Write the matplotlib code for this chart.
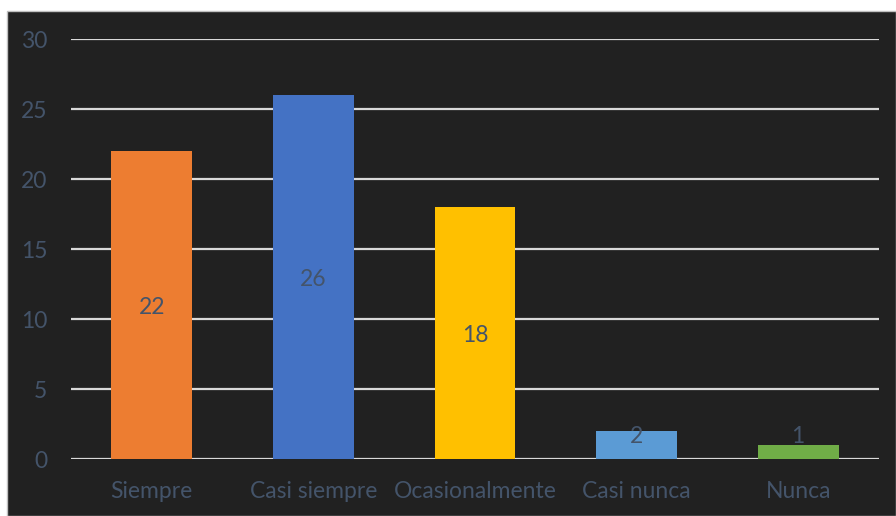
import matplotlib
matplotlib.use("Agg")
import matplotlib.pyplot as plt
from matplotlib.patches import Rectangle

categories = ["Siempre", "Casi siempre", "Ocasionalmente", "Casi nunca", "Nunca"]
values = [22, 26, 18, 2, 1]
colors = ["#ED7D31", "#4472C4", "#FFC000", "#5B9BD5", "#70AD47"]
yticks = [0, 5, 10, 15, 20, 25, 30]

plt.rcParams['font.family'] = ['Lato', 'DejaVu Sans']
W, H = 896, 516
fig = plt.figure(figsize=(W/100, H/100), dpi=100)
fig.patch.set_facecolor("white")
bg = Rectangle((7/W, 0), 1 - 7/W, 1 - 11/H, transform=fig.transFigure,
               facecolor="#212121", edgecolor="#BFBFBF", linewidth=1, zorder=-10)
fig.add_artist(bg)

ax = fig.add_axes([71/W, 1 - 459/H, (879-71)/W, (459-39)/H])
ax.set_zorder(5)
ax.set_facecolor("none")
x = range(len(categories))
ax.bar(x, values, width=0.5, color=colors, zorder=3)
ax.set_xlim(-0.5, len(categories) - 0.5)
ax.set_ylim(0, 30)
ax.set_yticks(yticks)
ax.yaxis.grid(True, color="#D9D9D9", linewidth=1.6, zorder=1)
ax.set_axisbelow(True)
for s in ax.spines.values():
    s.set_visible(False)
ax.tick_params(axis='both', length=0, colors="#44546A", labelsize=16.5)
ax.tick_params(axis='y', pad=17)
ax.tick_params(axis='x', pad=16)
ax.set_xticks(list(x))
ax.set_xticklabels(categories)
for i, v in enumerate(values):
    ax.text(i, max(v / 2, 1.8) - 0.2, str(v), ha='center', va='center',
            color="#44546A", fontsize=16.5, zorder=4)

fig.savefig("out.png", dpi=100, facecolor=fig.get_facecolor())
